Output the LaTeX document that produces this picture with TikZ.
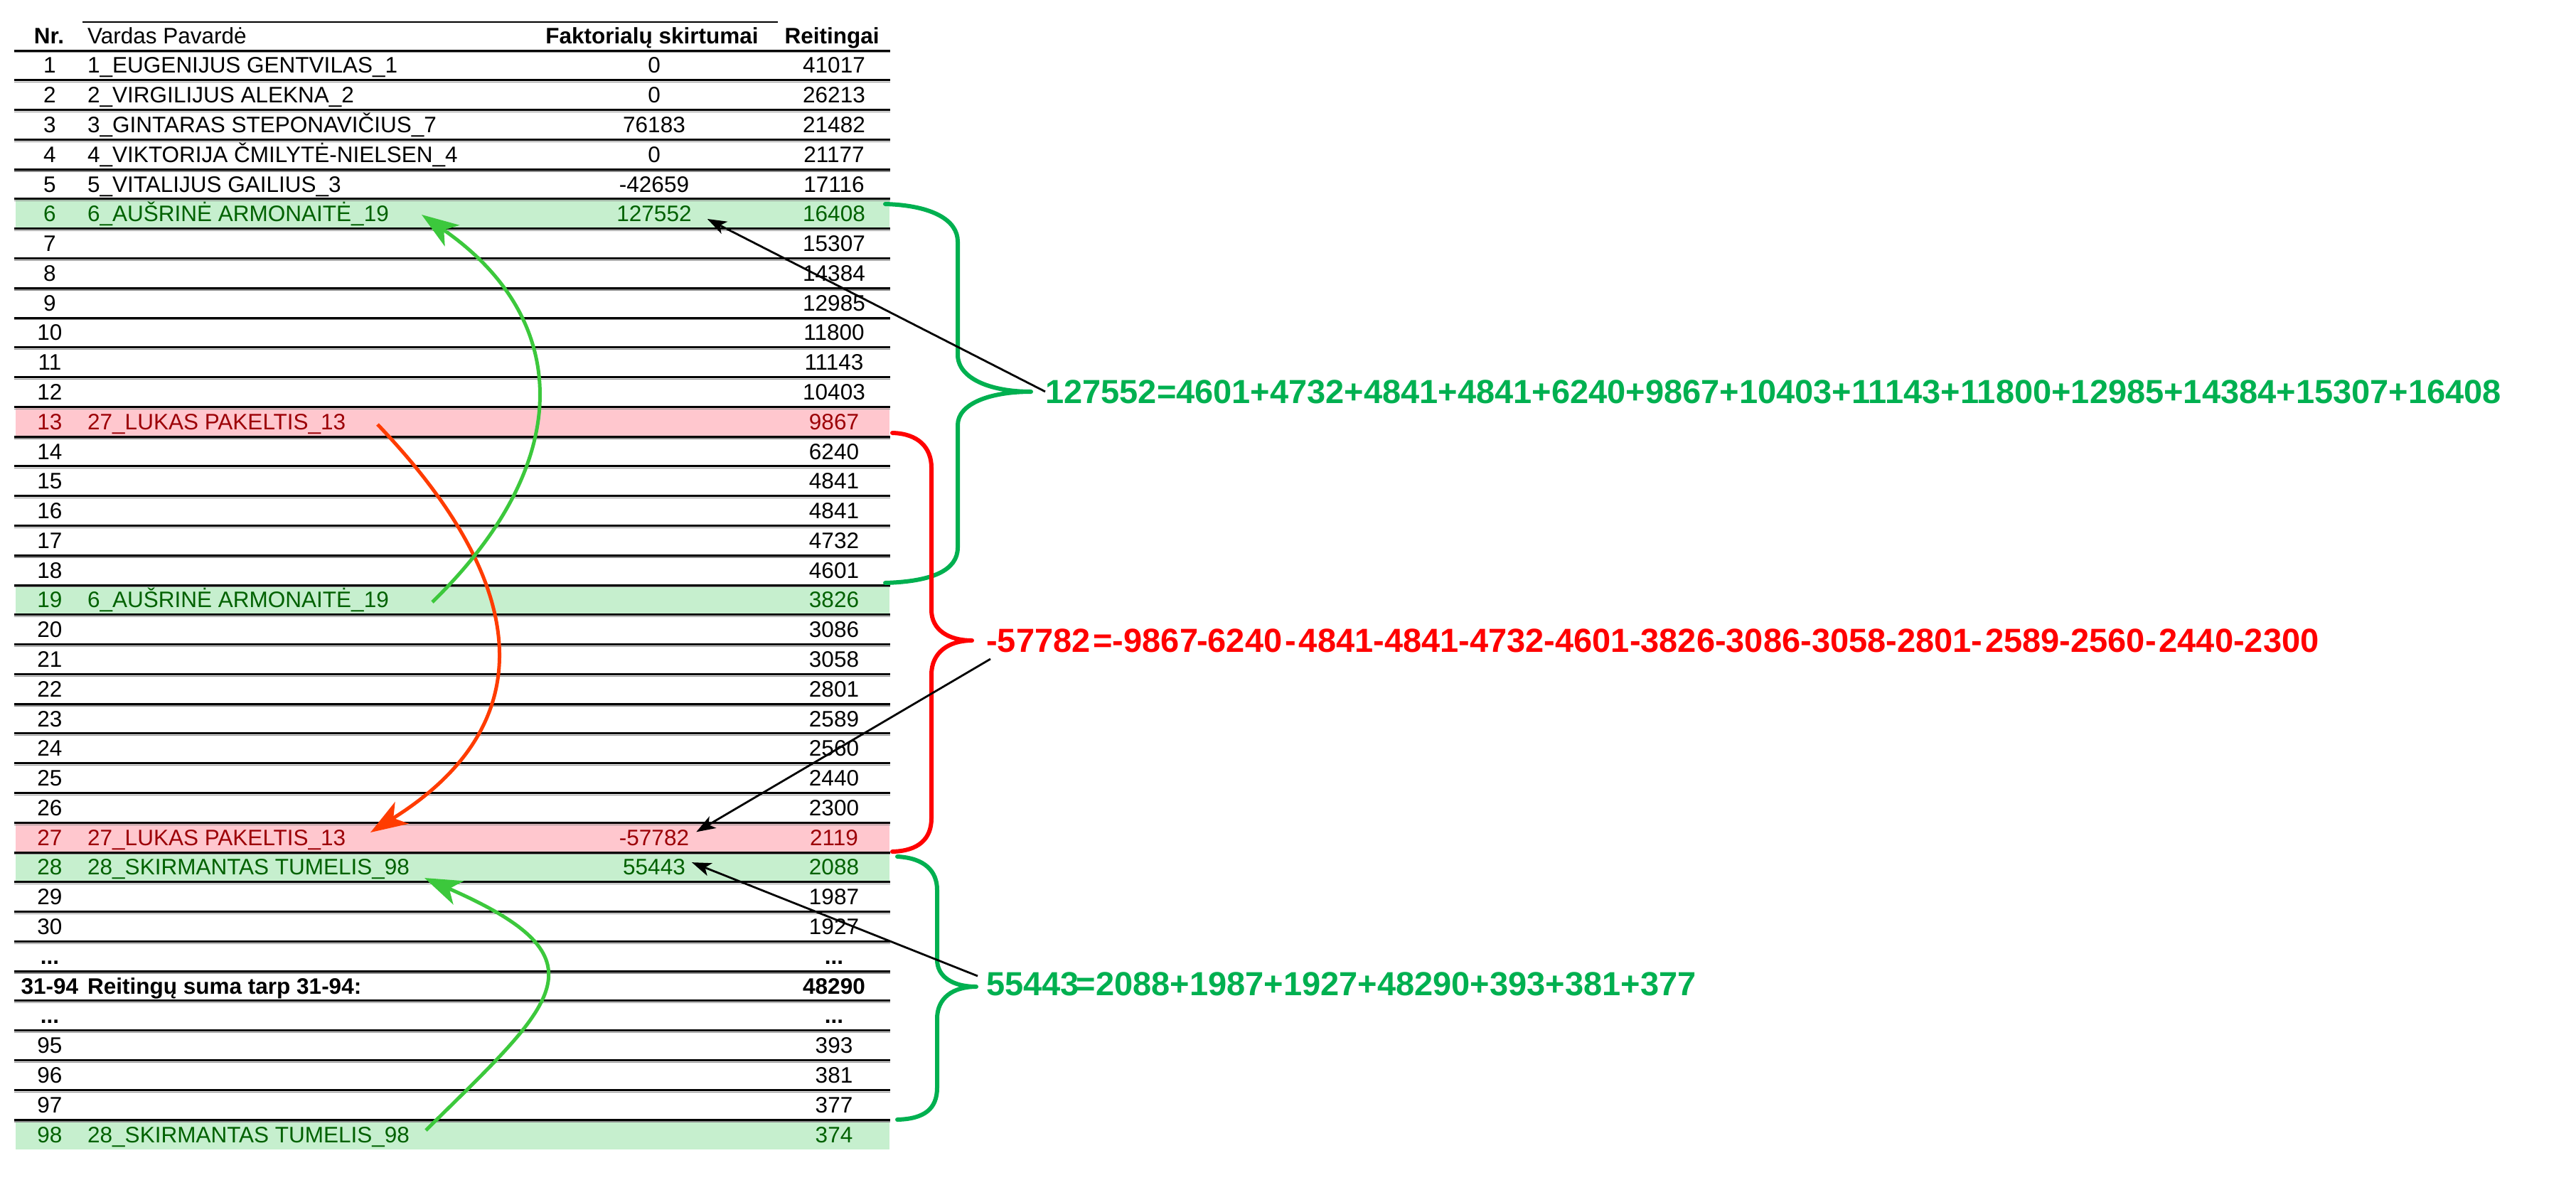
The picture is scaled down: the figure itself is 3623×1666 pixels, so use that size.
\documentclass[tikz,border=0pt]{standalone}
\usepackage{fontspec}
\setmainfont{Liberation Sans}
\usetikzlibrary{arrows.meta}
\definecolor{gfill}{HTML}{C6EFCE}
\definecolor{gtext}{HTML}{006100}
\definecolor{rfill}{HTML}{FFC7CE}
\definecolor{rtext}{HTML}{9C0006}
\definecolor{bracegreen}{HTML}{00B050}
\definecolor{bracered}{HTML}{FF0000}
\definecolor{arrowgreen}{HTML}{3CC83C}
\definecolor{arrowred}{HTML}{FF3C00}
\newcommand{\myellipsis}{.{}.{}.}
\begin{document}
\begin{tikzpicture}[x=1pt,y=-1pt,
  cell/.style={inner sep=0pt, anchor=base, font=\fontsize{31.5}{36}\selectfont},
  cellL/.style={cell, anchor=base west},
  plainrow/.style={text=black},
  greenrow/.style={text=gtext},
  redrow/.style={text=rtext},
  boldrow/.style={text=black, font=\fontsize{31.5}{36}\selectfont\bfseries},
  hdr/.style={cell, font=\fontsize{31.5}{36}\selectfont\bfseries},
  eqtext/.style={inner sep=0pt, anchor=base west, font=\fontsize{47}{56}\selectfont\bfseries},
  rowline/.style={line width=3pt, draw=black},
  rowshade/.style={line width=1.2pt, draw=black!45},
  bracestyle/.style={line width=6pt, line cap=round, line join=round},
  blk/.style={draw=black, line width=2.8pt, -{Stealth[length=27pt,width=19pt,inset=7pt]}},
  garrow/.style={draw=arrowgreen, line width=5pt, -{Stealth[length=52pt,width=36pt,inset=14pt]}},
  rarrow/.style={draw=arrowred, line width=5pt, -{Stealth[length=52pt,width=36pt,inset=14pt]}}
]
\useasboundingbox (0,0) rectangle (3623,1666);

% row fills
\foreach \i/\c in {5/gfill,18/gfill,27/gfill,36/gfill,12/rfill,26/rfill}{
  \pgfmathsetmacro\ya{71+41.78*\i}
  \pgfmathsetmacro\yb{71+41.78*(\i+1)}
  \fill[\c] (22,\ya) rectangle (1251,\yb);
}

% header top line
\draw[line width=2pt] (116,31) -- (1094,31);
% row lines
\foreach \k in {0,1,2,3,4,5,6,7,8,9,10,11,12,13,14,15,16,17,18,19,20,21,22,23,24,25,26,27,28,29,30,31,32,33,34,35,36}{
  \pgfmathsetmacro\yl{71+41.78*\k}
  \draw[rowshade] (20,\yl+2.8) -- (1252,\yl+2.8);
  \draw[rowline] (20,\yl) -- (1252,\yl);
}

% header
\node[hdr] (h1) at (69,61) {Nr.};
\node[cellL] (h2) at (123,61) {Vardas Pavardė};
\node[hdr] (h3) at (917,61) {Faktorialų skirtumai};
\node[hdr] (h4) at (1170,61) {Reitingai};

% Nr and Reitingai
\foreach \i/\nr/\rt/\st in {0/1/41017/plainrow,1/2/26213/plainrow,2/3/21482/plainrow,3/4/21177/plainrow,4/5/17116/plainrow,5/6/16408/greenrow,6/7/15307/plainrow,7/8/14384/plainrow,8/9/12985/plainrow,9/10/11800/plainrow,10/11/11143/plainrow,11/12/10403/plainrow,12/13/9867/redrow,13/14/6240/plainrow,14/15/4841/plainrow,15/16/4841/plainrow,16/17/4732/plainrow,17/18/4601/plainrow,18/19/3826/greenrow,19/20/3086/plainrow,20/21/3058/plainrow,21/22/2801/plainrow,22/23/2589/plainrow,23/24/2560/plainrow,24/25/2440/plainrow,25/26/2300/plainrow,26/27/2119/redrow,27/28/2088/greenrow,28/29/1987/plainrow,29/30/1927/plainrow,30/\myellipsis/\myellipsis/boldrow,31/31-94/48290/boldrow,32/\myellipsis/\myellipsis/boldrow,33/95/393/plainrow,34/96/381/plainrow,35/97/377/plainrow,36/98/374/greenrow}{
  \pgfmathsetmacro\yb{102.9+41.78*\i}
  \node[cell,\st] (nr\i) at (70,\yb) {\nr};
  \node[cell,\st] (rt\i) at (1173,\yb) {\rt};
}

% names
\foreach \i/\nm/\st in {0/1\_EUGENIJUS GENTVILAS\_1/plainrow,1/2\_VIRGILIJUS ALEKNA\_2/plainrow,2/3\_GINTARAS STEPONAVIČIUS\_7/plainrow,3/4\_VIKTORIJA ČMILYTĖ-NIELSEN\_4/plainrow,4/5\_VITALIJUS GAILIUS\_3/plainrow,5/6\_AUŠRINĖ ARMONAITĖ\_19/greenrow,12/27\_LUKAS PAKELTIS\_13/redrow,18/6\_AUŠRINĖ ARMONAITĖ\_19/greenrow,26/27\_LUKAS PAKELTIS\_13/redrow,27/28\_SKIRMANTAS TUMELIS\_98/greenrow,31/Reitingų suma tarp 31-94:/boldrow,36/28\_SKIRMANTAS TUMELIS\_98/greenrow}{
  \pgfmathsetmacro\yb{102.9+41.78*\i}
  \node[cellL,\st] (nm\i) at (123,\yb) {\nm};
}

% Faktorialu skirtumai
\foreach \i/\v/\st in {0/0/plainrow,1/0/plainrow,2/76183/plainrow,3/0/plainrow,4/-42659/plainrow,5/127552/greenrow,26/-57782/redrow,27/55443/greenrow}{
  \pgfmathsetmacro\yb{102.9+41.78*\i}
  \node[cell,\st] (fk\i) at (920,\yb) {\v};
}

% equations
\node[eqtext, text=bracegreen] (eq1) at (1470,567) {127552=4601+4732+4841+4841+6240+9867+10403+11143+11800+12985+14384+15307+16408};
\node[eqtext, text=bracered] (eq2) at (1387,917) {-57782\kern4pt=-9867\kern-2pt-6240\kern4pt-\kern4pt4841-4841-4732-4601-3826-3086-3058-2801-\kern4pt2589-2560-\kern4pt2440-2300};
\node[eqtext, text=bracegreen] (eq3) at (1387,1400) {55443\kern-4pt=2088+1987+1927+48290+393+381+377};

% braces
\draw[bracestyle, bracegreen] (1245,287) .. controls (1312,289) and (1347,310) .. (1347,340) -- (1347,499) .. controls (1347,532) and (1392,551) .. (1450,551) .. controls (1392,551) and (1347,568) .. (1347,598) -- (1347,770) .. controls (1347,802) and (1312,818) .. (1245,820);
\draw[bracestyle, bracered] (1255,609) .. controls (1292,610) and (1310,630) .. (1310,658) -- (1310,858) .. controls (1310,886) and (1334,901) .. (1367,901) .. controls (1334,901) and (1310,918) .. (1310,949) -- (1310,1151) .. controls (1310,1180) and (1292,1197) .. (1255,1198);
\draw[bracestyle, bracegreen] (1262,1205) .. controls (1300,1207) and (1318,1225) .. (1318,1252) -- (1318,1350) .. controls (1318,1374) and (1340,1388) .. (1373,1388) .. controls (1340,1388) and (1318,1404) .. (1318,1433) -- (1318,1530) .. controls (1318,1560) and (1300,1574) .. (1262,1575);

% curved arrows
\coordinate (gAs) at (608,847);
\coordinate (gAe) at (593,302);
\coordinate (rAs) at (531,597);
\coordinate (rAe) at (521,1171);
\coordinate (gBs) at (599,1590);
\coordinate (gBe) at (597,1235);
\draw[rarrow] (rAs) .. controls (751,827) and (761,1021) .. (rAe);
\draw[garrow] (gAs) .. controls (815,645) and (800,445) .. (gAe);
\draw[garrow] (gBs) .. controls (781,1410) and (860,1350) .. (gBe);

% black pointer arrows
\coordinate (b2s) at (1393,927);
\coordinate (b3s) at (1375,1373);
\draw[blk] (eq1.west) -- ([xshift=22pt,yshift=-7pt]fk5.east);
\draw[blk] (b2s) -- ([xshift=10pt,yshift=8pt]fk26.east);
\draw[blk] (b3s) -- ([xshift=9pt,yshift=7pt]fk27.east);
\end{tikzpicture}
\end{document}
